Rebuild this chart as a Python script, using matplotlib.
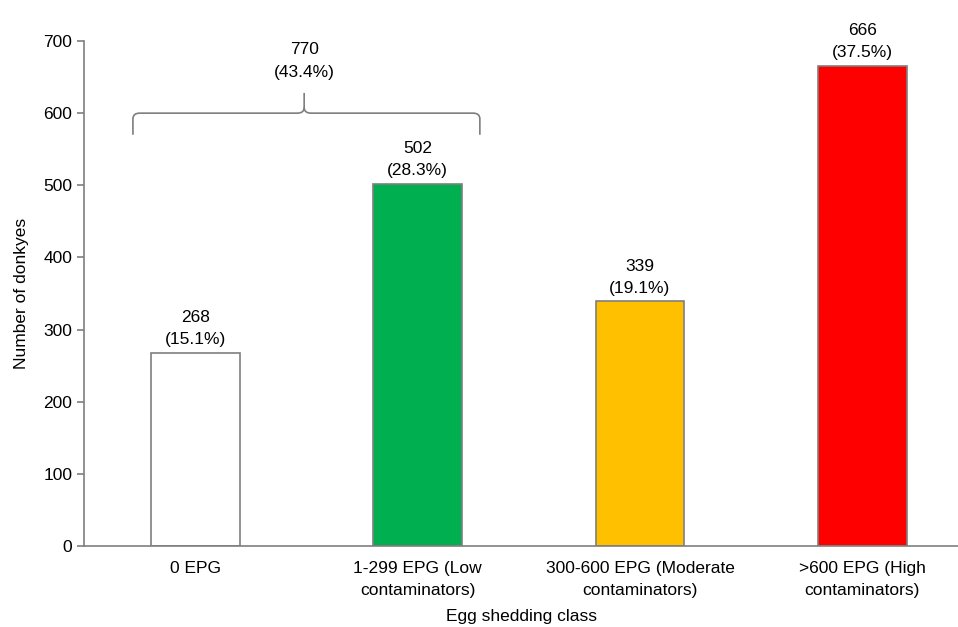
import matplotlib.pyplot as plt
from matplotlib.path import Path
from matplotlib.patches import PathPatch

plt.rcParams['font.family'] = ['Liberation Sans', 'DejaVu Sans']

categories = ['0 EPG', '1-299 EPG (Low\ncontaminators)',
              '300-600 EPG (Moderate\ncontaminators)', '>600 EPG (High\ncontaminators)']
counts = [268, 502, 339, 666]
percents = ['15.1%', '28.3%', '19.1%', '37.5%']
colors = ['#ffffff', '#00b050', '#ffc000', '#ff0000']
group_total = 770
group_pct = '43.4%'

fs = 12.5
fig = plt.figure(figsize=(9.58, 6.27), dpi=100)
ax = fig.add_axes([84 / 958, 1 - 546 / 627, 874 / 958, 505 / 627])

x = range(len(categories))
ax.bar(x, counts, width=0.4, color=colors, edgecolor='#7f7f7f', linewidth=1.2)

for i, (c, p) in enumerate(zip(counts, percents)):
    ax.annotate(f'{c}\n({p})', (i, c), textcoords='offset points', xytext=(0, 4),
                ha='center', va='bottom', fontsize=fs, linespacing=1.6)

# bracket over first two classes
xl, xr, xm = -0.28, 1.28, 0.49
yb, yh, yt = 570, 600, 628
r = 0.03
verts = [(xl, yb), (xl, yh - 8), (xl, yh), (xl + r, yh),
         (xm - r, yh), (xm, yh), (xm, yh + 8), (xm, yt)]
codes = [Path.MOVETO, Path.LINETO, Path.CURVE3, Path.CURVE3,
         Path.LINETO, Path.CURVE3, Path.CURVE3, Path.LINETO]
ax.add_patch(PathPatch(Path(verts, codes), fill=False, edgecolor='#7f7f7f', lw=1.2))
verts2 = [(xr, yb), (xr, yh - 8), (xr, yh), (xr - r, yh),
          (xm + r, yh), (xm, yh), (xm, yh + 8)]
codes2 = [Path.MOVETO, Path.LINETO, Path.CURVE3, Path.CURVE3,
          Path.LINETO, Path.CURVE3, Path.CURVE3]
ax.add_patch(PathPatch(Path(verts2, codes2), fill=False, edgecolor='#7f7f7f', lw=1.2))
ax.text(xm, 672, f'{group_total}\n({group_pct})', ha='center', va='center',
        fontsize=fs, linespacing=1.65)

ax.set_xlim(-0.5, 3.43)
ax.set_ylim(0, 700)
ax.set_yticks(range(0, 701, 100))
ax.set_xticks(list(x))
ax.set_xticklabels(categories, fontsize=fs, linespacing=1.55)
ax.tick_params(axis='y', labelsize=fs, length=5, color='#7f7f7f', width=1.2)
ax.tick_params(axis='x', length=0, pad=11)
ax.set_ylabel('Number of donkyes', fontsize=fs, labelpad=10)
ax.set_xlabel('Egg shedding class', fontsize=fs, labelpad=8)

for s in ['top', 'right']:
    ax.spines[s].set_visible(False)
for s in ['left', 'bottom']:
    ax.spines[s].set_color('#7f7f7f')
    ax.spines[s].set_linewidth(1.2)

fig.savefig('out.png', dpi=100)
